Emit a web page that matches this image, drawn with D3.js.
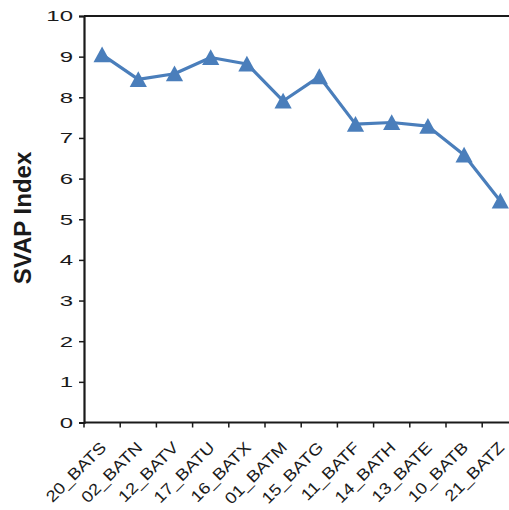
<!DOCTYPE html>
<html>
<head>
<meta charset="utf-8">
<script src="https://cdn.jsdelivr.net/npm/d3@7"></script>
<style>
  body { margin: 0; background: #fff; }
  svg { display: block; font-family: "Liberation Sans", Arial, sans-serif; }
</style>
</head>
<body>
<svg id="my_svg"></svg>
<script>
const width = 509;
const height = 510;

const sites = ['20_BATS', '02_BATN', '12_BATV', '17_BATU', '16_BATX', '01_BATM',
  '15_BATG', '11_BATF', '14_BATH', '13_BATE', '10_BATB', '21_BATZ'];
const svapIndex = [9.05, 8.44, 8.58, 8.98, 8.82, 7.91, 8.51, 7.34, 7.38, 7.29, 6.58, 5.45];
const yTicks = [0, 1, 2, 3, 4, 5, 6, 7, 8, 9, 10];

const margin = { top: 16, left: 84, bottom: 422.5 };
// plot area runs past the right edge of the picture
const plotRight = margin.left + 12 * 36.2;
const ink = '#1a1a1a';
const blue = '#4a7ebb';

const svg = d3.select('#my_svg')
  .attr('width', width)
  .attr('height', height);

const xScale = d3.scaleBand()
  .domain(sites)
  .range([margin.left, plotRight]);

const yScale = d3.scaleLinear()
  .domain([0, 10])
  .range([margin.bottom, margin.top]);

// top border of plot area
svg.append('line')
  .attr('x1', margin.left)
  .attr('x2', plotRight)
  .attr('y1', margin.top)
  .attr('y2', margin.top)
  .attr('stroke', ink)
  .attr('stroke-width', 2);

// y axis (labels are drawn wide, like the original)
const yStretch = 1.6;
const yAxis = svg.append('g')
  .attr('transform', `translate(${margin.left},0)`)
  .call(d3.axisLeft(yScale).tickValues(yTicks).tickSize(5).tickFormat(d3.format('d')));
yAxis.select('.domain').attr('stroke', ink).attr('stroke-width', 2.2);
yAxis.selectAll('.tick line').attr('stroke', ink).attr('stroke-width', 1.5);
yAxis.selectAll('.tick text')
  .attr('x', -11 / yStretch)
  .attr('transform', `scale(${yStretch},1)`)
  .attr('font-size', 15)
  .attr('fill', ink)
  .attr('font-family', '"Liberation Sans", Arial, sans-serif');

// x axis, ticks on category boundaries
const xAxis = svg.append('g')
  .attr('transform', `translate(0,${margin.bottom})`);
xAxis.append('line')
  .attr('x1', margin.left)
  .attr('x2', plotRight)
  .attr('stroke', ink)
  .attr('stroke-width', 2.2);
xAxis.selectAll('.xtick')
  .data(sites)
  .enter()
  .append('line')
  .attr('class', 'xtick')
  .attr('x1', d => xScale(d))
  .attr('x2', d => xScale(d))
  .attr('y1', 0)
  .attr('y2', 5)
  .attr('stroke', ink)
  .attr('stroke-width', 1.5);
xAxis.selectAll('.xlabel')
  .data(sites)
  .enter()
  .append('text')
  .attr('class', 'xlabel')
  .attr('transform', d => `translate(${xScale(d) + xScale.bandwidth() / 2 + 5},26) rotate(-45) scale(1.15,1)`)
  .attr('text-anchor', 'end')
  .attr('font-size', 16)
  .attr('fill', ink)
  .text(d => d);

// line
const cx = i => xScale(sites[i]) + xScale.bandwidth() / 2;
const line = d3.line()
  .x((d, i) => cx(i))
  .y(d => yScale(d));

svg.append('path')
  .datum(svapIndex)
  .attr('d', line)
  .attr('fill', 'none')
  .attr('stroke', blue)
  .attr('stroke-width', 3.2)
  .attr('stroke-linejoin', 'round');

// triangle markers, centred on their bounding box
const triangle = {
  draw(context) {
    context.moveTo(0, -8.2);
    context.lineTo(8.6, 7.6);
    context.lineTo(-8.6, 7.6);
    context.closePath();
  }
};
svg.selectAll('.marker')
  .data(svapIndex)
  .enter()
  .append('path')
  .attr('class', 'marker')
  .attr('d', d3.symbol().type(triangle))
  .attr('transform', (d, i) => `translate(${cx(i)},${yScale(d)})`)
  .attr('fill', blue);

// y axis title
svg.append('text')
  .attr('transform', 'translate(31,218) rotate(-90)')
  .attr('text-anchor', 'middle')
  .attr('font-size', 24)
  .attr('font-weight', 'bold')
  .attr('fill', ink)
  .text('SVAP Index');
</script>
</body>
</html>
